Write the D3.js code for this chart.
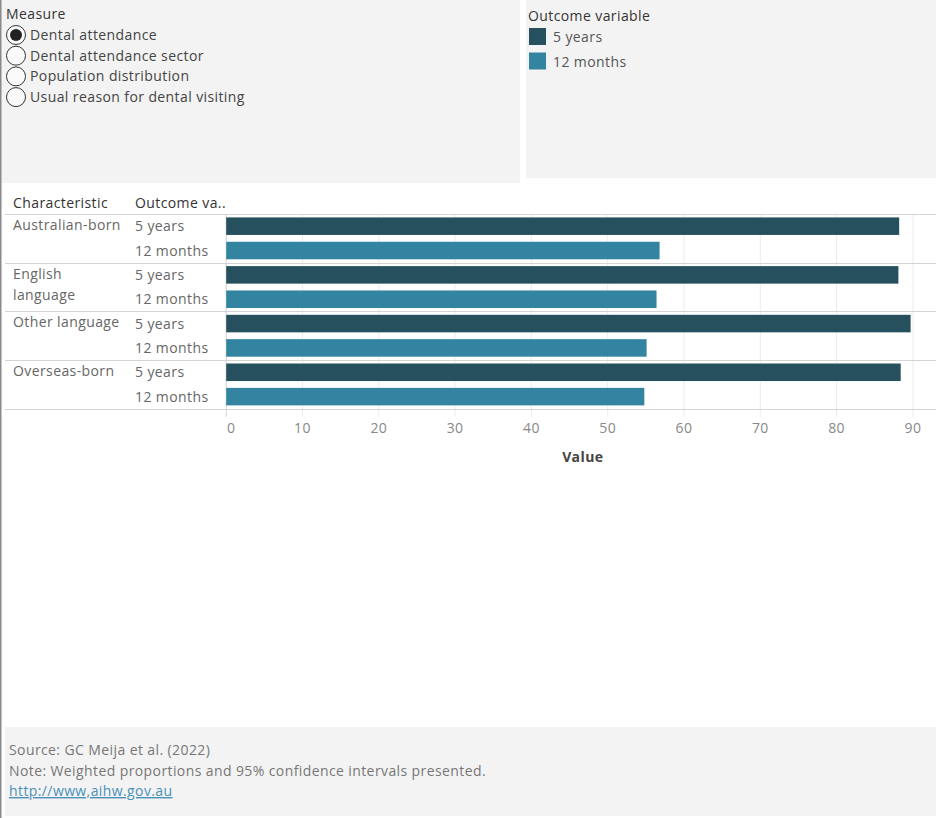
<!DOCTYPE html>
<html><head><meta charset="utf-8">
<script src="https://cdn.jsdelivr.net/npm/d3@7"></script>
<style>
body{margin:0;background:#fff;}
svg{display:block;font-family:"Open Sans",Lato,sans-serif;}
svg text{letter-spacing:0.4px;}
</style></head>
<body><svg id="c" width="936" height="818"></svg>
<script>
const characteristics = ["Australian-born","English language","Other language","Overseas-born"];
const characteristicLines = [["Australian-born"],["English","language"],["Other language"],["Overseas-born"]];
const outcomes = ["5 years","12 months"];
const values5y = [88.2, 88.1, 89.7, 88.4];
const values12m = [56.8, 56.4, 55.1, 54.8];
const xTicks = [0,10,20,30,40,50,60,70,80,90];
const measures = ["Dental attendance","Dental attendance sector","Population distribution","Usual reason for dental visiting"];
const colors = ["#26505e","#3284a0"];

const svg = d3.select("#c");
const fs = 14;

// panels
svg.append("rect").attr("x",0).attr("y",0).attr("width",520).attr("height",183).attr("fill","#f3f3f3");
svg.append("rect").attr("x",526).attr("y",0).attr("width",410).attr("height",178).attr("fill","#f3f3f3");
svg.append("rect").attr("x",5).attr("y",727).attr("width",931).attr("height",89).attr("fill","#f3f3f3");
svg.append("line").attr("x1",0.75).attr("x2",0.75).attr("y1",0).attr("y2",818).attr("stroke","#8a8a8a").attr("stroke-width",1.5);

// Measure selector
svg.append("text").attr("x",6).attr("y",19).attr("font-size",fs).attr("fill","#333").text("Measure");
const mg = svg.append("g").selectAll("g").data(measures).join("g")
  .attr("transform",(d,i)=>`translate(0,${35+i*20.7})`);
mg.append("circle").attr("cx",16).attr("cy",0).attr("r",9.5).attr("fill","#fafafa").attr("stroke","#333").attr("stroke-width",1);
mg.filter((d,i)=>i===0).append("circle").attr("cx",16).attr("cy",0).attr("r",6).attr("fill","#222");
mg.append("text").attr("x",30).attr("y",5).attr("font-size",fs).attr("fill","#444").text(d=>d);

// Legend
svg.append("text").attr("x",528).attr("y",21).attr("font-size",fs).attr("fill","#333").text("Outcome variable");
const lg = svg.append("g").selectAll("g").data(outcomes).join("g")
  .attr("transform",(d,i)=>`translate(529,${28+i*24.5})`);
lg.append("rect").attr("width",17).attr("height",17).attr("fill",(d,i)=>colors[i]);
lg.append("text").attr("x",24).attr("y",14).attr("font-size",fs).attr("fill","#555").text(d=>d);

// Chart
const x = d3.scaleLinear().domain([0,90]).range([225.7,912.4]);
const plotTop = 214, groupH = 48.7;
const yG = d3.scaleBand().domain(characteristics).range([plotTop, plotTop+groupH*characteristics.length]);
const yS = d3.scaleBand().domain(outcomes).range([0, groupH]).paddingInner(0.28).paddingOuter(0.14);

// headers
svg.append("text").attr("x",13).attr("y",208).attr("font-size",fs).attr("fill","#333").text("Characteristic");
svg.append("text").attr("x",135).attr("y",208).attr("font-size",fs).attr("fill","#333").text("Outcome va..");

// gridlines
svg.append("g").selectAll("line").data(xTicks).join("line")
  .attr("x1",d=>x(d)+0.5).attr("x2",d=>x(d)+0.5).attr("y1",plotTop).attr("y2",plotTop+groupH*4+8)
  .attr("stroke",(d)=>d===0?"#d0d0d0":"#ececec").attr("stroke-width",1);

// row separators
const seps = [plotTop].concat(characteristics.map(c=>yG(c)+groupH));
svg.append("g").selectAll("line").data(seps).join("line")
  .attr("x1",5).attr("x2",936).attr("y1",d=>Math.round(d)+0.5).attr("y2",d=>Math.round(d)+0.5)
  .attr("stroke","#d4d4d4");

// bars & labels
const data = [];
characteristics.forEach((c,i)=>{ data.push({c,o:outcomes[0],v:values5y[i]}); data.push({c,o:outcomes[1],v:values12m[i]}); });
svg.append("g").selectAll("rect").data(data).join("rect")
  .attr("x",x(0)+0.5).attr("y",d=>yG(d.c)+yS(d.o))
  .attr("width",d=>x(d.v)-x(0)).attr("height",yS.bandwidth())
  .attr("fill",d=>colors[outcomes.indexOf(d.o)]);

svg.append("g").selectAll("text").data(data).join("text")
  .attr("x",135).attr("y",d=>yG(d.c)+yS(d.o)+yS.bandwidth()/2+5)
  .attr("font-size",fs).attr("fill","#666").text(d=>d.o);

const cl = svg.append("g").selectAll("text").data(characteristics).join("text")
  .attr("x",13).attr("y",d=>yG(d)+16).attr("font-size",fs).attr("fill","#666");
cl.selectAll("tspan").data((d,i)=>characteristicLines[i]).join("tspan")
  .attr("x",13).attr("dy",(d,i)=>i===0?0:21.5).text(d=>d);

// axis
const axis = d3.axisBottom(x).tickValues(xTicks).tickSize(0).tickPadding(0);
const ag = svg.append("g").attr("transform",`translate(0,${plotTop+groupH*4})`).call(axis);
ag.select(".domain").remove();
ag.selectAll("text").attr("font-size",fs).attr("font-family","'Open Sans',Lato,sans-serif")
  .attr("fill","#888").attr("dy",0).attr("y",24).attr("dx",d=>d===0?5:0);
svg.append("text").attr("x",x(46.8)).attr("y",462).attr("text-anchor","middle")
  .attr("font-size",fs).attr("font-weight","bold").attr("fill","#444").text("Value");

// footer
const foot = ["Source: GC Meija et al. (2022)","Note: Weighted proportions and 95% confidence intervals presented."];
svg.append("g").selectAll("text").data(foot).join("text")
  .attr("x",9).attr("y",(d,i)=>755+i*21).attr("font-size",fs).attr("fill","#777").text(d=>d);
svg.append("text").attr("x",9).attr("y",796).attr("font-size",fs).attr("fill","#4a90b8")
  .attr("text-decoration","underline").text("http://www,aihw.gov.au");
</script></body></html>
